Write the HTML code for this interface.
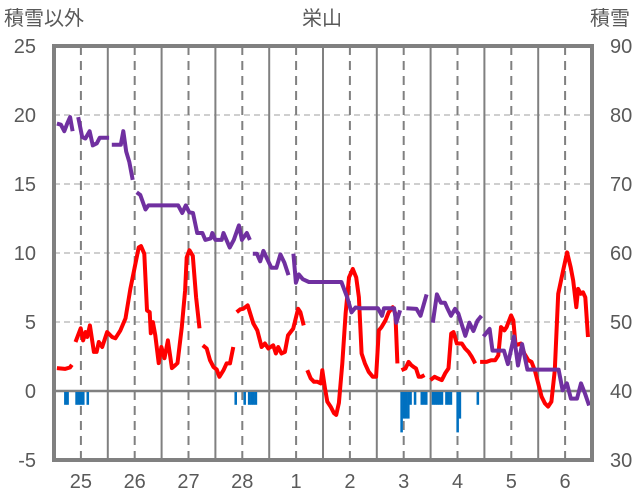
<!DOCTYPE html>
<html><head><meta charset="utf-8">
<style>
html,body{margin:0;padding:0;background:#fff;}
svg{display:block;font-family:"Liberation Sans Narrow","Liberation Sans","Noto Sans CJK JP",sans-serif;}
</style></head>
<body>
<svg id="chart" width="636" height="501" viewBox="0 0 636 501" xmlns="http://www.w3.org/2000/svg">
  <text x="4" y="25" font-size="20" fill="#595959" font-family="'Liberation Sans','Noto Sans CJK JP',sans-serif">積雪以外</text>
  <text x="322" y="25" font-size="20" fill="#595959" text-anchor="middle" font-family="'Liberation Sans','Noto Sans CJK JP',sans-serif">栄山</text>
  <text x="590" y="25" font-size="20" fill="#595959" font-family="'Liberation Sans','Noto Sans CJK JP',sans-serif">積雪</text>
  <g id="grid"></g>
  <g id="bars"></g>
  <g id="lines"></g>
  <g id="axes"></g>
</svg>
<script>
const leftTicks = [-5, 0, 5, 10, 15, 20, 25];
const rightTicks = [30, 40, 50, 60, 70, 80, 90];
const dayLabels = ["25","26","27","28","1","2","3","4","5","6"];
const tempHours = [1.3,4.9,7.1,8,null,9.6,11.9,13.0,14.1,14.8,16.0,17.8,19.0,20.0,21.5,23.7,25.9,27.4,29.6,31.9,34.1,36.3,37.8,38.8,40.3,41.5,42.7,43.2,44.1,45.2,46.7,47.9,49.3,50.8,52.6,54.1,55.1,57.0,58.5,59.2,60.4,61.9,63.4,64.9,null,66.4,68.1,69.6,71.1,72.6,73.8,75.6,77.0,78.5,80.0,null,81.5,83.0,84.4,86.4,88.9,90.7,92.6,94.1,95.6,97.8,99.0,100.0,101.5,103.0,104.4,106.7,108.9,109.9,111.4,null,113.0,114.5,116.0,117.5,119.0,119.7,120.9,121.9,123.4,124.9,125.9,127.1,128.6,130.1,131.6,133.3,134.8,136.0,137.2,138.7,140.4,142.2,143.7,144.9,146.1,147.9,149.3,151.1,152.3,153.2,null,155.0,156.8,158.2,159.4,160.4,161.5,162.7,163.9,165.3,null,167.9,169.8,171.2,173.0,174.5,176.0,177.2,178.2,179.7,181.9,183.4,184.9,186.4,187.9,null,190.1,193.0,195.0,196.8,198.2,199.4,200.9,201.9,203.9,204.9,205.9,208.3,209.8,211.6,213.0,214.5,216.0,217.5,219.0,220.4,221.9,223.4,224.9,227.1,228.9,230.5,231.6,233.0,233.8,235.0,236.0,237.0,238.2];
const tempValues = [1.66,1.6,1.7,1.9,null,3.55,4.54,3.67,4.27,3.91,4.75,2.83,2.83,3.55,3.19,4.27,3.91,3.82,4.39,5.26,7.42,9.22,10.4,10.5,9.94,5.84,5.71,4.18,4.99,4.03,2.02,3.19,2.38,3.67,1.66,1.87,2.02,4.63,7.28,9.68,10.2,9.8,6.79,4.54,null,3.31,3.08,2.23,1.75,1.56,1.03,1.51,2.0,2.0,3.19,null,5.71,5.91,5.96,6.2,4.9,4.39,3.19,3.44,3.08,3.31,2.72,3.19,2.72,2.83,4.03,4.52,5.96,5.71,4.75,null,1.51,0.91,0.67,0.67,0.55,1.51,0.19,-0.77,-1.13,-1.61,-1.73,-0.86,2.0,5.6,8.23,8.84,8.23,6.79,2.72,2.0,1.39,1.03,1.03,4.39,4.63,5.12,5.71,6.07,5.6,2.0,null,1.51,1.64,2.11,1.87,1.75,1.64,1.03,1.03,1.15,null,0.79,1.03,0.91,0.79,1.28,1.64,4.16,4.27,3.44,3.44,3.08,2.83,2.47,2.0,null,2.11,2.11,2.23,2.23,2.59,4.63,4.39,4.63,5.48,5.12,3.31,3.44,2.72,2.23,2.11,1.51,0.55,-0.41,-0.89,-1.13,-0.77,1.51,7.04,8.72,10.04,8.96,8.0,6.07,7.4,7.04,7.15,6.79,3.91];
const snowHours = [1.3,3.1,4.6,5.9,7.2,8.3,null,10.8,12.6,14.0,15.9,17.3,19.1,20.4,24.6,null,25.8,29.8,30.9,32.2,33.6,35.1,null,36.9,38.5,40.8,42.1,55.4,57.2,58.8,60.3,62.0,63.9,66.2,67.5,69.9,70.6,72.0,74.8,75.6,78.4,80.2,82.5,83.8,86.0,87.4,null,88.7,90.5,92.0,93.4,95.6,97.0,99.2,101.0,102.8,104.6,null,106.8,107.9,109.2,111.0,113.7,128.2,130.9,132.7,134.5,136.4,144.5,146.3,147.2,151.7,152.7,154.4,null,157.2,161.7,163.5,166.2,null,169.0,170.8,172.6,174.4,175.3,177.1,178.9,180.4,183.5,185.3,187.1,188.9,190.7,null,191.6,194.3,195.6,200.7,202.5,205.2,207.0,208.8,211.2,225.1,226.9,228.8,230.6,233.3,235.1,236.9,238.7];
const snowValues = [78.75,78.6,77.65,78.75,79.7,77.65,null,79.7,76.8,76.6,77.65,75.6,75.9,76.7,76.7,null,75.7,75.7,77.65,74.7,73.2,70.6,null,68.8,68.4,66.3,66.9,66.9,65.8,66.9,65.9,65.8,62.9,62.9,61.9,62.1,62.9,61.9,61.9,62.9,60.8,61.9,64.0,61.9,62.9,61.9,null,59.9,59.9,58.8,60.3,58.8,57.85,57.85,59.8,58.6,56.8,null,59.9,55.7,56.9,56.2,55.8,55.8,53.5,51.4,52.1,52.0,52.0,50.9,52.0,52.0,49.9,51.7,null,52.0,51.9,50.9,54.0,null,49.9,54.0,52.8,52.8,52.1,50.9,51.9,51.2,48.0,49.9,48.7,50.2,50.9,null,47.9,49.0,45.85,45.85,43.9,47.9,43.7,46.8,43.1,43.1,40.1,41.1,38.9,38.9,41.1,39.6,37.9];
const barHours = [5,6,10,11,12,13,15,81,85,87,88,89,90,155,156,157,158,159,161,164,165,166,169,170,171,172,173,175,176,177,180,181,189];
const barValues = [-1,-1,-1,-1,-1,-1,-1,-1,-1,-1,-1,-1,-1,-3,-2,-2,-2,-1,-1,-1,-1,-1,-1,-1,-1,-1,-1,-1,-1,-1,-3,-2,-1];

const NS = "http://www.w3.org/2000/svg";
const X0 = 54, X1 = 592, YT = 46, YB = 460;
const xs = h => X0 + h * (X1 - X0) / 240;
const yL = v => YB - (v + 5) * (YB - YT) / 30;
const yR = v => YB - (v - 30) * (YB - YT) / 60;
function mk(tag, attrs, parent) {
  const e = document.createElementNS(NS, tag);
  for (const k in attrs) e.setAttribute(k, attrs[k]);
  parent.appendChild(e);
  return e;
}
const grid = document.getElementById('grid');
const bars = document.getElementById('bars');
const lines = document.getElementById('lines');
const axes = document.getElementById('axes');

leftTicks.forEach(t => {
  if (t > -5 && t < 25 && t !== 0) {
    const l = mk('line', {x1: X0, x2: X1, y1: yL(t), y2: yL(t), stroke: '#bfbfbf', 'stroke-width': 1.5, 'stroke-dasharray': '6,4'}, grid);
    
    
  }
  const tx = mk('text', {x: 36, y: yL(t) + 7, 'font-size': 20, fill: '#595959', 'text-anchor': 'end'}, axes);
  tx.textContent = t;
  
  
});
rightTicks.forEach(t => {
  const tx = mk('text', {x: 610, y: yR(t) + 7, 'font-size': 20, fill: '#595959'}, axes);
  tx.textContent = t;
  
  
});
for (let d = 0; d < 10; d++) {
  if (d > 0) {
    const l = mk('line', {x1: xs(d*24), x2: xs(d*24), y1: YT, y2: YB, stroke: '#808080', 'stroke-width': 2}, grid);
    
    
  }
  const n = mk('line', {x1: xs(d*24+12), x2: xs(d*24+12), y1: YT, y2: YB, stroke: '#808080', 'stroke-width': 2, 'stroke-dasharray': '9,6'}, grid);
  
  
  const tx = mk('text', {x: xs(d*24+12), y: 488, 'font-size': 20, fill: '#595959', 'text-anchor': 'middle'}, axes);
  tx.textContent = dayLabels[d];
  
  
}
const zl = mk('line', {x1: X0, x2: X1, y1: yL(0), y2: yL(0), stroke: '#808080', 'stroke-width': 2.5}, grid);



barHours.forEach((h, i) => {
  const w = (X1 - X0) / 240;
  const r = mk('rect', {x: xs(h) - w/2, y: yL(0) + 1, width: w + 0.3, height: yL(barValues[i]) - yL(0) - 1, fill: '#0070C0'}, bars);
  
  
});

function pathFrom(hs, vs, yf) {
  let d = '', pen = false;
  hs.forEach((h, i) => {
    if (h === null || vs[i] === null) { pen = false; return; }
    d += (pen ? 'L' : 'M') + xs(h).toFixed(1) + ' ' + yf(vs[i]).toFixed(1);
    pen = true;
  });
  return d;
}
const tp = mk('path', {d: pathFrom(tempHours, tempValues, yL), fill: 'none', stroke: '#FF0000', 'stroke-width': 4, 'stroke-linejoin': 'round'}, lines);


const sp = mk('path', {d: pathFrom(snowHours, snowValues, yR), fill: 'none', stroke: '#7030A0', 'stroke-width': 4, 'stroke-linejoin': 'round'}, lines);



const border = mk('rect', {x: X0, y: YT, width: X1 - X0, height: YB - YT, fill: 'none', stroke: '#808080', 'stroke-width': 4}, axes);


</script>
</body></html>
